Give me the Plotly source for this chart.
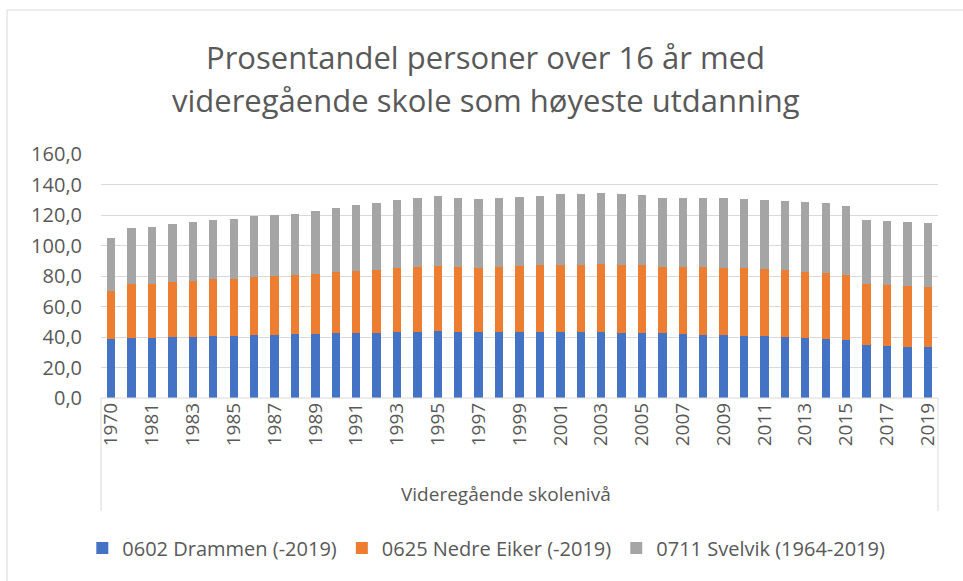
import plotly.graph_objects as go

years = ["1970"] + [str(y) for y in range(1980, 2020)]

# cumulative tops
top_drammen = [38.9, 39.3, 39.3, 39.8, 40.2, 40.4, 40.7, 41.1, 41.5, 41.7, 42.2, 42.4,
               42.4, 42.8, 43.3, 43.5, 43.7, 43.1, 43.1, 43.1, 43.1, 43.1, 43.1, 43.1,
               43.1, 42.8, 42.4, 42.4, 41.7, 41.5, 41.1, 40.7, 40.4, 40.0, 39.3, 38.7,
               38.3, 34.5, 34.3, 33.7, 33.7]
top_eiker = [69.9, 74.5, 75.0, 75.8, 76.5, 77.8, 78.3, 79.6, 79.8, 80.4, 81.3, 82.4,
             83.1, 84.2, 85.5, 85.9, 86.6, 85.7, 85.5, 85.7, 86.3, 87.0, 87.0, 87.0,
             87.7, 87.0, 87.0, 85.9, 85.7, 85.7, 85.5, 85.0, 84.4, 83.7, 82.4, 81.7,
             80.4, 74.5, 73.9, 73.2, 72.6]
top_svelvik = [104.7, 111.5, 112.1, 113.9, 115.4, 116.5, 117.4, 119.1, 119.8, 120.9, 122.8, 124.4,
               126.3, 127.9, 130.1, 131.1, 132.7, 131.4, 130.7, 131.1, 131.8, 132.7, 133.6, 133.8,
               134.2, 133.6, 133.1, 131.1, 130.9, 131.1, 130.9, 130.3, 130.1, 129.4, 128.5, 127.9,
               126.1, 116.7, 116.3, 115.4, 114.8]

drammen = top_drammen
nedre_eiker = [round(b - a, 1) for a, b in zip(top_drammen, top_eiker)]
svelvik = [round(c - b, 1) for b, c in zip(top_eiker, top_svelvik)]

names = ["0602 Drammen (-2019)", "0625 Nedre Eiker (-2019)", "0711 Svelvik (1964-2019)"]
colors = ["#4472C4", "#ED7D31", "#A5A5A5"]
tick_years = years[::2]

FONT = "Open Sans"
GREY = "#595959"

fig = go.Figure()
for name, vals, col in zip(names, [drammen, nedre_eiker, svelvik], colors):
    fig.add_trace(go.Bar(x=years, y=vals, name=name, marker=dict(color=col, line=dict(width=0))))

W, H = 963, 581
L, R, T, B = 101, 938, 154, 398

def px(x):
    return (x - L) / (R - L)

def py(y):
    return (B - y) / (B - T)

shapes = [
    dict(type="line", xref="paper", yref="paper", x0=0, x1=0, y0=0, y1=py(511),
         line=dict(color="#d9d9d9", width=1)),
    dict(type="line", xref="paper", yref="paper", x0=1, x1=1, y0=0, y1=py(511),
         line=dict(color="#d9d9d9", width=1)),
    dict(type="line", xref="paper", yref="paper", x0=0, x1=1, y0=0, y1=0,
         line=dict(color="#d9d9d9", width=1)),
    dict(type="rect", xref="paper", yref="paper", x0=px(7), x1=px(975), y0=py(590), y1=py(10),
         line=dict(color="#d9d9d9", width=1)),
]

annotations = [
    dict(text="Prosentandel personer over 16 år med", xref="paper", yref="paper",
         x=px(485), y=py(57), yanchor="middle", showarrow=False,
         font=dict(family=FONT, size=31, color=GREY)),
    dict(text="videregående skole som høyeste utdanning", xref="paper", yref="paper",
         x=px(486), y=py(100), yanchor="middle", showarrow=False,
         font=dict(family=FONT, size=31, color=GREY)),
    dict(text="Videregående skolenivå", xref="paper", yref="paper",
         x=px(506), y=py(494), yanchor="middle", showarrow=False,
         font=dict(family=FONT, size=19, color=GREY)),
]

fig.update_layout(
    width=W, height=H,
    margin=dict(l=L, r=W - R, t=T, b=H - B),
    paper_bgcolor="white", plot_bgcolor="white",
    barmode="stack", bargap=0.59,
    separators=",.",
    font=dict(family=FONT, color=GREY),
    shapes=shapes, annotations=annotations,
    legend=dict(orientation="h", xref="container", yref="container",
                x=0.505, xanchor="center", y=1 - 548 / H, yanchor="middle",
                font=dict(family=FONT, size=20, color=GREY), traceorder="normal",
                itemwidth=30),
    xaxis=dict(type="category", tickmode="array", tickvals=tick_years, ticktext=tick_years,
               tickangle=-90, tickfont=dict(family=FONT, size=19, color=GREY),
               showgrid=False, showline=False, ticks="", zeroline=False),
    yaxis=dict(range=[0, 160], dtick=20, tickformat=".1f",
               tickfont=dict(family=FONT, size=20, color=GREY),
               showgrid=True, gridcolor="#d9d9d9", gridwidth=1,
               showline=False, zeroline=False, ticks="", ticklabelstandoff=18),
)

fig.write_html("out.html", config={"displayModeBar": False},
               post_script="document.body.style.margin='0';")
